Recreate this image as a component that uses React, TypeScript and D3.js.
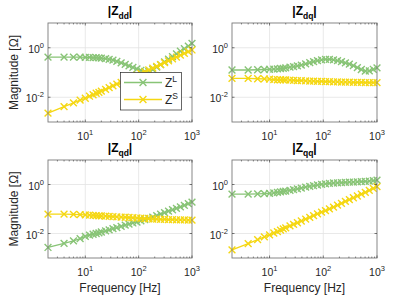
import * as d3 from "d3";

// frequency points [Hz]
const freq = [2, 4, 6, 8, 10, 12, 14, 16, 18, 20, 24, 28, 33, 39, 47, 56, 66, 78, 93, 110, 130, 155, 184, 218, 258, 306, 363, 431, 511, 606, 719, 853, 1000];

// |Z| magnitudes [Ohm], L = load, S = source
const zddL = [0.417, 0.417, 0.417, 0.417, 0.407, 0.407, 0.398, 0.398, 0.389, 0.38, 0.363, 0.339, 0.316, 0.282, 0.245, 0.214, 0.186, 0.162, 0.141, 0.123, 0.112, 0.11, 0.132, 0.166, 0.209, 0.269, 0.347, 0.437, 0.562, 0.724, 0.912, 1.17, 1.51];
const zddS = [0.00229, 0.00417, 0.00589, 0.00759, 0.00912, 0.011, 0.0126, 0.0145, 0.0158, 0.0178, 0.0209, 0.0245, 0.0288, 0.0339, 0.0398, 0.0479, 0.0562, 0.0661, 0.0776, 0.0912, 0.107, 0.126, 0.151, 0.178, 0.209, 0.251, 0.295, 0.355, 0.417, 0.501, 0.589, 0.692, 0.813];
const zdqL = [0.126, 0.126, 0.129, 0.132, 0.135, 0.138, 0.141, 0.145, 0.148, 0.155, 0.166, 0.174, 0.186, 0.2, 0.224, 0.251, 0.275, 0.302, 0.324, 0.339, 0.339, 0.324, 0.302, 0.275, 0.245, 0.219, 0.191, 0.158, 0.132, 0.115, 0.117, 0.135, 0.155];
const zdqS = [0.058, 0.058, 0.056, 0.055, 0.054, 0.052, 0.051, 0.051, 0.05, 0.05, 0.049, 0.048, 0.047, 0.047, 0.046, 0.045, 0.045, 0.044, 0.044, 0.043, 0.043, 0.042, 0.042, 0.041, 0.041, 0.041, 0.04, 0.04, 0.04, 0.039, 0.039, 0.039, 0.039];
const zqdL = [0.00269, 0.00398, 0.00501, 0.00617, 0.00759, 0.00851, 0.00933, 0.01, 0.0107, 0.0115, 0.0129, 0.0141, 0.0158, 0.0174, 0.0195, 0.0219, 0.024, 0.0269, 0.0295, 0.0331, 0.0372, 0.0417, 0.0468, 0.0537, 0.0617, 0.0708, 0.0813, 0.0933, 0.107, 0.123, 0.141, 0.166, 0.191];
const zqdS = [0.062, 0.062, 0.06, 0.059, 0.058, 0.056, 0.055, 0.054, 0.052, 0.052, 0.051, 0.05, 0.049, 0.048, 0.047, 0.046, 0.045, 0.044, 0.043, 0.042, 0.041, 0.04, 0.039, 0.039, 0.038, 0.038, 0.037, 0.037, 0.036, 0.036, 0.036, 0.035, 0.035];
const zqqL = [0.407, 0.407, 0.417, 0.427, 0.437, 0.457, 0.479, 0.501, 0.525, 0.537, 0.575, 0.617, 0.661, 0.708, 0.776, 0.832, 0.891, 0.955, 1.02, 1.07, 1.12, 1.15, 1.17, 1.2, 1.23, 1.26, 1.26, 1.29, 1.32, 1.35, 1.38, 1.45, 1.51];
const zqqS = [0.00214, 0.00389, 0.00562, 0.00724, 0.00871, 0.0105, 0.012, 0.0138, 0.0155, 0.017, 0.0204, 0.0234, 0.0275, 0.0324, 0.0389, 0.0457, 0.0537, 0.0631, 0.0741, 0.0851, 0.102, 0.12, 0.145, 0.17, 0.204, 0.24, 0.288, 0.339, 0.407, 0.479, 0.575, 0.692, 0.813];

const xTicks = [10, 100, 1000];
const yTicks = [0.01, 1];
const seriesNames = ["L", "S"];

const GREEN = "#88c476";
const YELLOW = "#f5d712";
const AX = "#262626";
const FONT = "'Liberation Sans', Arial, Helvetica, sans-serif";

type PanelProps = {
  sub: string;
  left: number;
  right: number;
  top: number;
  bottom: number;
  zL: number[];
  zS: number[];
  yLabel?: boolean;
  xLabel?: boolean;
  legend?: boolean;
};

function Marker({ x, y, color }: { x: number; y: number; color: string }) {
  const s = 3.4;
  return (
    <path
      d={`M${x - s},${y - s}L${x + s},${y + s}M${x - s},${y + s}L${x + s},${y - s}`}
      stroke={color}
      strokeWidth={1.4}
      fill="none"
    />
  );
}

function Panel({ sub, left, right, top, bottom, zL, zS, yLabel, xLabel, legend }: PanelProps) {
  const x = d3.scaleLog().domain([2, 1000]).range([left, right]);
  const y = d3.scaleLog().domain([1e-3, 1e1]).range([bottom, top]);
  const line = d3
    .line<number>()
    .x((_, i) => x(freq[i]))
    .y((d) => y(d));

  // minor x ticks: 3..9, 20..90, 200..900
  const minor: number[] = [];
  for (const dec of [1, 10, 100]) {
    for (let k = 2; k <= 9; k++) {
      const v = k * dec;
      if (v > 2 && v < 1000 && v !== 10 && v !== 100) minor.push(v);
    }
  }
  const cx = (left + right) / 2;

  return (
    <g fontFamily={FONT}>
      <rect x={left} y={top} width={right - left} height={bottom - top} fill="#fff" />
      {/* grid */}
      {xTicks.slice(0, 2).map((t) => (
        <line key={"gx" + t} x1={x(t)} x2={x(t)} y1={top} y2={bottom} stroke="#e3e3e3" strokeWidth={0.8} />
      ))}
      {yTicks.map((t) => (
        <line key={"gy" + t} x1={left} x2={right} y1={y(t)} y2={y(t)} stroke="#e3e3e3" strokeWidth={0.8} />
      ))}
      {/* series */}
      {[zL, zS].map((z, si) => {
        const c = si === 0 ? GREEN : YELLOW;
        return (
          <g key={seriesNames[si]}>
            <path d={line(z) ?? ""} fill="none" stroke={c} strokeWidth={1.3} />
            {z.map((v, i) => (
              <Marker key={i} x={x(freq[i])} y={y(v)} color={c} />
            ))}
          </g>
        );
      })}
      {/* box */}
      <rect x={left} y={top} width={right - left} height={bottom - top} fill="none" stroke="#7a7a7a" strokeWidth={0.9} />
      {/* ticks */}
      {xTicks.map((t) => (
        <g key={"tx" + t}>
          <line x1={x(t)} x2={x(t)} y1={bottom} y2={bottom - 2.5} stroke={AX} strokeWidth={0.6} />
          <line x1={x(t)} x2={x(t)} y1={top} y2={top + 2.5} stroke={AX} strokeWidth={0.6} />
          <text x={x(t)} y={bottom + 18} textAnchor="middle" fontSize={10.5} fill={AX}>
            10<tspan dy={-5} fontSize={7.5}>{Math.round(Math.log10(t))}</tspan>
          </text>
        </g>
      ))}
      {minor.map((t) => (
        <g key={"mx" + t}>
          <line x1={x(t)} x2={x(t)} y1={bottom} y2={bottom - 1.5} stroke={AX} strokeWidth={0.5} />
          <line x1={x(t)} x2={x(t)} y1={top} y2={top + 1.5} stroke={AX} strokeWidth={0.5} />
        </g>
      ))}
      {yTicks.map((t) => (
        <g key={"ty" + t}>
          <line x1={left} x2={left + 2.5} y1={y(t)} y2={y(t)} stroke={AX} strokeWidth={0.6} />
          <line x1={right} x2={right - 2.5} y1={y(t)} y2={y(t)} stroke={AX} strokeWidth={0.6} />
          <text x={left - 4} y={y(t) + 5} textAnchor="end" fontSize={10.5} fill={AX}>
            10<tspan dy={-5} fontSize={7.5}>{Math.round(Math.log10(t))}</tspan>
          </text>
        </g>
      ))}
      {/* title */}
      <text x={cx} y={top - 8} textAnchor="middle" fontSize={12} fontWeight="bold" fill="#000">
        |Z<tspan dy={4} fontSize={8.5}>{sub}</tspan>
        <tspan dy={-4}>|</tspan>
      </text>
      {yLabel && (
        <text
          transform={`translate(${left - 30},${(top + bottom) / 2}) rotate(-90)`}
          textAnchor="middle"
          fontSize={12}
          fill={AX}
        >
          Magnitude [Ω]
        </text>
      )}
      {xLabel && (
        <text x={cx} y={bottom + 34} textAnchor="middle" fontSize={12} fill={AX}>
          Frequency [Hz]
        </text>
      )}
      {legend && (
        <g>
          <rect x={120.5} y={72.5} width={61} height={37.5} fill="#fff" stroke={AX} strokeWidth={0.7} />
          {seriesNames.map((n, i) => {
            const c = i === 0 ? GREEN : YELLOW;
            const ly = 82.5 + i * 17;
            return (
              <g key={"lg" + n}>
                <line x1={124} x2={162} y1={ly} y2={ly} stroke={c} strokeWidth={1.3} />
                <Marker x={143} y={ly} color={c} />
                <text x={165} y={ly + 4.5} fontSize={12} fill={AX}>
                  Z<tspan dy={-5} fontSize={8.5}>{n}</tspan>
                </text>
              </g>
            );
          })}
        </g>
      )}
    </g>
  );
}

export default function App() {
  return (
    <svg width={399} height={297} style={{ position: "absolute", left: 0, top: 0, background: "#fff" }}>
      <rect width={399} height={297} fill="#fff" />
      <Panel sub="dd" left={48} right={192} top={23} bottom={122} zL={zddL} zS={zddS} yLabel legend />
      <Panel sub="dq" left={232} right={377} top={23} bottom={122} zL={zdqL} zS={zdqS} />
      <Panel sub="qd" left={48} right={192} top={160} bottom={258} zL={zqdL} zS={zqdS} yLabel xLabel />
      <Panel sub="qq" left={232} right={377} top={160} bottom={258} zL={zqqL} zS={zqqS} xLabel />
    </svg>
  );
}
